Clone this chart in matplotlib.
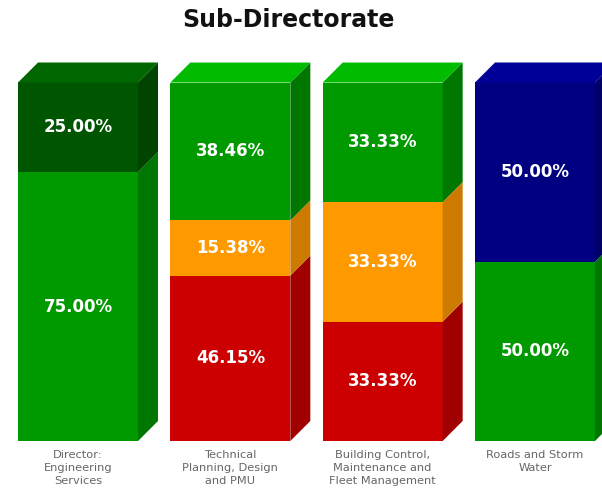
import matplotlib
matplotlib.use("Agg")
import matplotlib.pyplot as plt
from matplotlib.patches import Polygon, Rectangle

categories = ["Director:\nEngineering\nServices",
              "Technical\nPlanning, Design\nand PMU",
              "Building Control,\nMaintenance and\nFleet Management",
              "Roads and Storm\nWater"]
red = [0.0, 46.15, 33.33, 0.0]
orange = [0.0, 15.38, 33.33, 0.0]
green = [75.00, 38.46, 33.33, 50.00]
dark_green = [25.00, 0.0, 0.0, 0.0]
blue = [0.0, 0.0, 0.0, 50.00]

series = [red, orange, green, dark_green, blue]
# (front, side, top)
colors = [("#CC0000", "#A00000", "#E00000"),
          ("#FF9900", "#CC7A00", "#FFAA22"),
          ("#009900", "#007700", "#00BB00"),
          ("#005500", "#004400", "#006600"),
          ("#000080", "#000066", "#000099")]

W, H = 602, 492
fig = plt.figure(figsize=(W / 100, H / 100), dpi=100)
ax = fig.add_axes([0, 0, 1, 1])
sx = 152.33          # pixels per category unit
sy = 3.585           # pixels per percent
x0px, y0px = 78, 441
ax.set_xlim(-x0px / sx, (W - x0px) / sx)
ax.set_ylim(-(H - y0px) / sy, y0px / sy)
ax.axis("off")

bw = 120 / sx
dx = 20 / sx
dy = 20 / sy

for i, cat in enumerate(categories):
    left = i - bw / 2
    right = i + bw / 2
    base = 0.0
    top_color = None
    for s, col in zip(series, colors):
        v = s[i]
        if v <= 0:
            continue
        y1 = base + v
        ax.add_patch(Rectangle((left, base), bw, v, facecolor=col[0],
                               edgecolor="none", zorder=2))
        ax.add_patch(Polygon([(right, base), (right + dx, base + dy),
                              (right + dx, y1 + dy), (right, y1)],
                             closed=True, facecolor=col[1], edgecolor="none", zorder=2))
        ax.text(i, base + v / 2, f"{v:.2f}%", ha="center", va="center",
                color="white", fontsize=12, fontweight="bold", zorder=3)
        base = y1
        top_color = col[2]
    ax.add_patch(Polygon([(left, base), (left + dx, base + dy),
                          (right + dx, base + dy), (right, base)],
                         closed=True, facecolor=top_color, edgecolor="none", zorder=2))
    ax.text(i, -2.5, cat, ha="center", va="top", color="#666666",
            fontsize=8.2, linespacing=1.4)

fig.text(288 / W, 1 - 20 / H, "Sub-Directorate", ha="center", va="center",
         fontsize=17, fontweight="bold", color="#111111")

fig.savefig("out.png", dpi=100)
